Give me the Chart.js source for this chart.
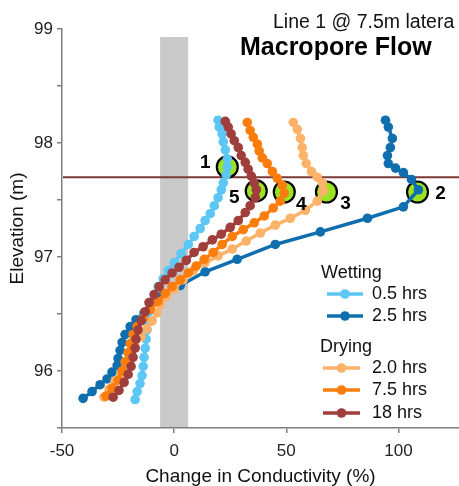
<!DOCTYPE html>
<html>
<head>
<meta charset="utf-8">
<script src="https://cdn.jsdelivr.net/npm/chart.js@4"></script>
<style>
  html, body { margin: 0; padding: 0; background: #ffffff; }
  #wrap { position: relative; width: 459px; height: 486px; }
</style>
</head>
<body>
<div id="wrap"><canvas id="c" width="459" height="486"></canvas></div>
<script>
// ---------- data ----------
const seriesNames = ['0.5 hrs', '2.5 hrs', '2.0 hrs', '7.5 hrs', '18 hrs'];
const groupNames = ['Wetting', 'Drying'];

const wet05Elev = [98.20,98.14,98.08,98.01,97.94,97.86,97.79,97.72,97.65,97.59,97.52,97.45,97.38,97.32,97.25,97.18,97.11,97.03,96.95,96.88,96.81,96.74,96.67,96.60,96.52,96.44,96.36,96.28,96.20,96.12,96.04,95.96,95.89,95.82,95.75];
const wet05Change = [19.6,20.1,21.4,21.9,22.8,23.7,23.7,23.2,21.9,21.0,19.6,17.9,16.1,13.8,11.6,8.9,6.3,3.1,0,-2.7,-4.9,-7.1,-8.9,-10.3,-11.2,-11.6,-12.1,-12.5,-12.9,-13.4,-13.8,-14.3,-15.2,-16.5,-17.4];

const wet25Elev = [98.20,98.14,98.04,97.96,97.89,97.82,97.78,97.74,97.68,97.59,97.44,97.34,97.22,97.11,96.98,96.87,96.75,96.67,96.59,96.51,96.45,96.39,96.32,96.25,96.18,96.11,96.05,95.99,95.93,95.88,95.82,95.76];
const wet25Change = [94.2,95.5,97.3,96.4,95.1,95.5,98.7,102.2,105.8,108.9,102.2,86.2,65.2,45.1,28.1,13.8,2.7,-4.9,-10.7,-13.4,-17.0,-19.6,-21.9,-23.2,-24.1,-25.0,-25.4,-27.7,-29.9,-33.0,-36.6,-40.6];

const dry20Elev = [98.18,98.12,98.04,97.96,97.89,97.82,97.75,97.70,97.65,97.58,97.49,97.41,97.34,97.28,97.21,97.14,97.07,97.01,96.95,96.88,96.80,96.72,96.65,96.58,96.51,96.44,96.37,96.30,96.22,96.14,96.06,95.98,95.91,95.84,95.77];
const dry20Change = [53.1,54.9,56.3,57.1,57.6,58.9,61.2,63.8,66.1,66.5,63.8,58.5,51.8,45.1,38.4,32.1,25.9,19.6,13.8,8.5,4.0,0,-3.6,-6.3,-7.6,-9.8,-12.1,-14.7,-17.4,-19.6,-21.4,-23.7,-26.3,-29.0,-31.3];

const dry75Elev = [98.18,98.11,98.05,97.99,97.93,97.87,97.82,97.75,97.69,97.63,97.56,97.49,97.43,97.36,97.30,97.24,97.18,97.11,97.04,96.98,96.92,96.86,96.80,96.74,96.68,96.61,96.54,96.46,96.39,96.32,96.24,96.16,96.08,96.00,95.92,95.85,95.78];
const dry75Change = [32.6,33.9,35.3,37.1,37.9,39.3,41.5,43.8,46.0,48.2,49.1,47.3,44.2,40.2,35.7,30.8,25.9,21.4,17.4,13.4,9.8,6.3,2.7,-0.9,-4.0,-7.1,-10.7,-13.8,-16.5,-18.3,-19.6,-20.5,-21.9,-23.2,-25.0,-27.7,-30.4];

const dry18Elev = [98.19,98.14,98.08,98.02,97.96,97.89,97.83,97.77,97.71,97.65,97.59,97.52,97.45,97.39,97.32,97.26,97.20,97.15,97.09,97.04,96.97,96.91,96.86,96.80,96.74,96.67,96.60,96.52,96.44,96.36,96.28,96.20,96.12,96.04,95.97,95.90,95.83,95.77];
const dry18Change = [22.8,24.1,25.4,26.8,28.6,29.9,31.7,33.0,34.4,35.7,36.6,36.2,33.9,31.7,28.6,25.0,21.0,17.0,12.9,8.9,5.4,2.2,-0.9,-4.0,-6.7,-8.9,-11.2,-12.9,-14.7,-16.1,-17.0,-17.4,-18.3,-19.2,-20.5,-22.3,-24.6,-27.2];

// highlighted points (numbered circles)
const markerLabels = ['1', '2', '3', '4', '5'];
const markerChange = [23.7, 108.5, 67.9, 49.1, 36.6];
const markerElev = [97.79, 97.57, 97.57, 97.57, 97.58];

// reference features
const bandChange = [-6.25, 6.25];   // grey "no change" band
const bandTopElev = 98.93;
const refLineElev = 97.70;          // horizontal reference line

// axis ticks
const xTickValues = [-50, 0, 50, 100];
const yTickValues = [95.5, 96, 96.5, 97, 97.5, 98, 98.5, 99];

// ---------- styles ----------
const FONT = '"Liberation Sans", Arial, Helvetica, sans-serif';
const colors = ['#5cc6f4', '#0f6fae', '#fdb26a', '#fb7d0b', '#9f3e3b'];
const markerFill = '#9be224';

function pts(xs, ys) { return xs.map((v, i) => ({ x: v, y: ys[i] })); }

const seriesData = [
  pts(wet05Change, wet05Elev),
  pts(wet25Change, wet25Elev),
  pts(dry20Change, dry20Elev),
  pts(dry75Change, dry75Elev),
  pts(dry18Change, dry18Elev)
];

const datasets = seriesData.map((d, i) => ({
  label: seriesNames[i],
  data: d,
  showLine: true,
  borderColor: colors[i],
  backgroundColor: colors[i],
  borderWidth: 3.5,
  pointRadius: 4.8,
  pointBorderWidth: 0,
  pointBackgroundColor: colors[i],
  order: 5 - i
}));

datasets.push({
  label: 'markers',
  data: pts(markerChange, markerElev),
  showLine: false,
  pointRadius: 10.5,
  pointBorderWidth: 2.2,
  pointBorderColor: '#000000',
  pointBackgroundColor: markerFill,
  order: 10
});

const annot = {
  id: 'annot',
  beforeDatasetsDraw(chart) {
    const { ctx, chartArea: a, scales: { x, y } } = chart;
    ctx.save();
    const x1 = x.getPixelForValue(bandChange[0]);
    const x2 = x.getPixelForValue(bandChange[1]);
    const yt = y.getPixelForValue(bandTopElev);
    ctx.fillStyle = '#c9c9c9';
    ctx.fillRect(x1, yt, x2 - x1, a.bottom - yt - 1);
    const yr = y.getPixelForValue(refLineElev);
    ctx.strokeStyle = '#7b3935';
    ctx.lineWidth = 2;
    ctx.beginPath();
    ctx.moveTo(a.left + 1, yr);
    ctx.lineTo(chart.width, yr);
    ctx.stroke();
    ctx.restore();
  },
  afterDraw(chart) {
    const { ctx, scales: { x, y } } = chart;
    ctx.save();
    const offs = [[-22, -4], [23, 2], [19, 12], [17, 13], [-22, 7]];
    ctx.font = 'bold 19px ' + FONT;
    ctx.fillStyle = '#000';
    ctx.textAlign = 'center';
    ctx.textBaseline = 'middle';
    markerLabels.forEach((t, i) => {
      const px = x.getPixelForValue(markerChange[i]) + offs[i][0];
      const py = y.getPixelForValue(markerElev[i]) + offs[i][1];
      ctx.fillText(t, px, py);
    });
    ctx.textAlign = 'left';
    ctx.textBaseline = 'alphabetic';
    ctx.font = '19.5px ' + FONT;
    ctx.fillStyle = '#111';
    ctx.fillText('Line 1 @ 7.5m latera', 273, 28);
    ctx.font = 'bold 25px ' + FONT;
    ctx.fillStyle = '#000';
    ctx.fillText('Macropore Flow', 240, 55);
    ctx.font = '18px ' + FONT;
    ctx.fillStyle = '#111';
    ctx.textBaseline = 'middle';
    ctx.fillText(groupNames[0], 321, 273);
    ctx.fillText(groupNames[1], 320, 347);
    const rows = [
      { i: 0, y: 294, x1: 327, x2: 363 },
      { i: 1, y: 316, x1: 327, x2: 363 },
      { i: 2, y: 368, x1: 323, x2: 360 },
      { i: 3, y: 390, x1: 323, x2: 360 },
      { i: 4, y: 413, x1: 323, x2: 360 }
    ];
    rows.forEach(r => {
      ctx.strokeStyle = colors[r.i];
      ctx.lineWidth = 3.5;
      ctx.beginPath();
      ctx.moveTo(r.x1, r.y);
      ctx.lineTo(r.x2, r.y);
      ctx.stroke();
      ctx.fillStyle = colors[r.i];
      ctx.beginPath();
      ctx.arc((r.x1 + r.x2) / 2, r.y, 4.8, 0, Math.PI * 2);
      ctx.fill();
      ctx.fillStyle = '#111';
      ctx.fillText(seriesNames[r.i], 372, r.y);
    });
    ctx.restore();
  }
};

new Chart(document.getElementById('c'), {
  type: 'scatter',
  data: { datasets },
  options: {
    responsive: false,
    animation: false,
    events: [],
    layout: { autoPadding: false, padding: { top: 29, right: 0, left: 0, bottom: 0 } },
    plugins: { legend: { display: false }, tooltip: { enabled: false } },
    scales: {
      x: {
        type: 'linear',
        min: -50,
        max: 127,
        afterBuildTicks: s => { s.ticks = xTickValues.map(v => ({ value: v })); },
        afterFit: s => { s.height = 58; s.paddingRight = 0; s.paddingLeft = 0; },
        grid: { drawOnChartArea: false, tickLength: 5, color: '#7f7f7f', lineWidth: 1.5 },
        border: { color: '#7f7f7f', width: 1.5 },
        ticks: { font: { size: 17, family: FONT }, color: '#222', padding: 8, maxRotation: 0,
                 callback: v => String(v) },
        title: { display: true, text: 'Change in Conductivity (%)', font: { size: 19, family: FONT },
                 color: '#111', padding: { top: 2, bottom: -2 } }
      },
      y: {
        type: 'linear',
        min: 95.5,
        max: 99,
        afterBuildTicks: s => { s.ticks = yTickValues.map(v => ({ value: v })); },
        afterFit: s => { s.width = 62; s.paddingTop = 0; s.paddingBottom = 0; },
        grid: { drawOnChartArea: false, tickLength: 5, color: '#7f7f7f', lineWidth: 1.5 },
        border: { color: '#7f7f7f', width: 1.5 },
        ticks: { font: { size: 17, family: FONT }, color: '#222', padding: 4,
                 callback: v => (Number.isInteger(v) ? String(v) : '') },
        title: { display: true, text: 'Elevation (m)', font: { size: 19, family: FONT },
                 color: '#111', padding: { top: 6, bottom: 0 } }
      }
    }
  },
  plugins: [annot]
});
</script>
</body>
</html>
